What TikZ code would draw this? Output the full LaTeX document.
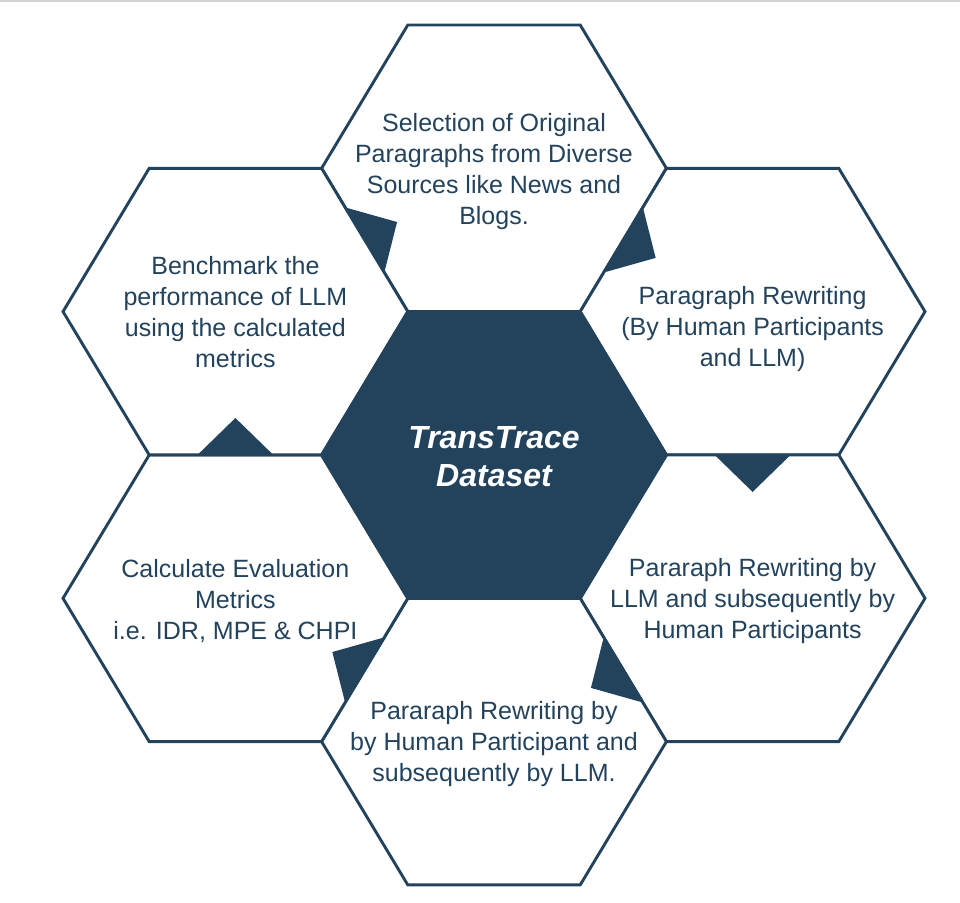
\documentclass[tikz,border=0pt]{standalone}
\usepackage{fontspec}
\setmainfont{Liberation Sans}
\usepackage{xcolor}
\usetikzlibrary{calc}
\definecolor{navy}{HTML}{23435D}
\tikzstyle{hexcell} = [draw=navy, line width=2.9pt, fill=white]
\tikzstyle{hexcore} = [draw=navy, line width=2.9pt, fill=navy]
\tikzstyle{stage} = [align=center, text=navy, yshift=-2.5pt, font=\fontsize{25}{31}\selectfont]
\tikzstyle{title} = [align=center, text=white, yshift=-1.5pt, font=\fontsize{32}{38}\selectfont\bfseries\itshape]
\tikzstyle{pointer} = [fill=navy]

% small triangle on the shared side #1--#2, pointing into hexagon #3
\newcommand{\flow}[3]{%
  \coordinate (mid) at ($(#1)!0.5!(#2)$);
  \fill[pointer] ($(mid)!38pt!(#1)$) -- ($(mid)!37pt!(#3)$) -- ($(mid)!38pt!(#2)$) -- cycle;}

\begin{document}
\begin{tikzpicture}[x=1pt, y=-1pt]

	\useasboundingbox (0,0) rectangle (960,902);
	\draw[gray!35, line width=1.5pt] (0,1) -- (960,1);

	% hexagon centres
	\coordinate (core) at (494,455);
	\coordinate (top) at (494,168.3);
	\coordinate (ur) at (752.6,311.6);
	\coordinate (lr) at (752.6,598.3);
	\coordinate (bot) at (494,741.6);
	\coordinate (ll) at (235.4,598.3);
	\coordinate (ul) at (235.4,311.6);

	\foreach \n in {top,ur,lr,bot,ll,ul,core}{
		\coordinate (\n-e) at ($(\n)+(172.4,0)$);
		\coordinate (\n-se) at ($(\n)+(86.2,143.3)$);
		\coordinate (\n-sw) at ($(\n)+(-86.2,143.3)$);
		\coordinate (\n-w) at ($(\n)+(-172.4,0)$);
		\coordinate (\n-nw) at ($(\n)+(-86.2,-143.3)$);
		\coordinate (\n-ne) at ($(\n)+(86.2,-143.3)$);
	}
	\foreach \n in {top,ur,lr,bot,ll,ul}
		\draw[hexcell] (\n-e) -- (\n-se) -- (\n-sw) -- (\n-w) -- (\n-nw) -- (\n-ne) -- cycle;
	\draw[hexcore] (core-e) -- (core-se) -- (core-sw) -- (core-w) -- (core-nw) -- (core-ne) -- cycle;

	\flow{top-e}{top-se}{ur}
	\flow{ur-sw}{ur-se}{lr}
	\flow{lr-w}{lr-sw}{bot}
	\flow{bot-nw}{bot-w}{ll}
	\flow{ll-nw}{ll-ne}{ul}
	\flow{ul-ne}{ul-e}{top}

	\node (dataset) [title] at (core) {TransTrace\\Dataset};
	\node (select) [stage] at ($(top)+(0,1)$) {Selection of Original\\Paragraphs from Diverse\\Sources like News and\\Blogs.};
	\node (rewrite) [stage] at ($(ur)+(0,15)$) {Paragraph Rewriting\\(By Human Participants\\and LLM)};
	\node (llmhuman) [stage] at (lr) {Pararaph Rewriting by\\LLM and subsequently by\\Human Participants};
	\node (humanllm) [stage] at (bot) {Pararaph Rewriting by\\by Human Participant and\\subsequently by LLM.};
	\node (metrics) [stage] at (ll) {Calculate Evaluation\\Metrics\\i.e. IDR, MPE \& CHPI};
	\node (bench) [stage] at ($(ul)+(0,-2)$) {Benchmark the\\performance of LLM\\using the calculated\\metrics};

\end{tikzpicture}
\end{document}
